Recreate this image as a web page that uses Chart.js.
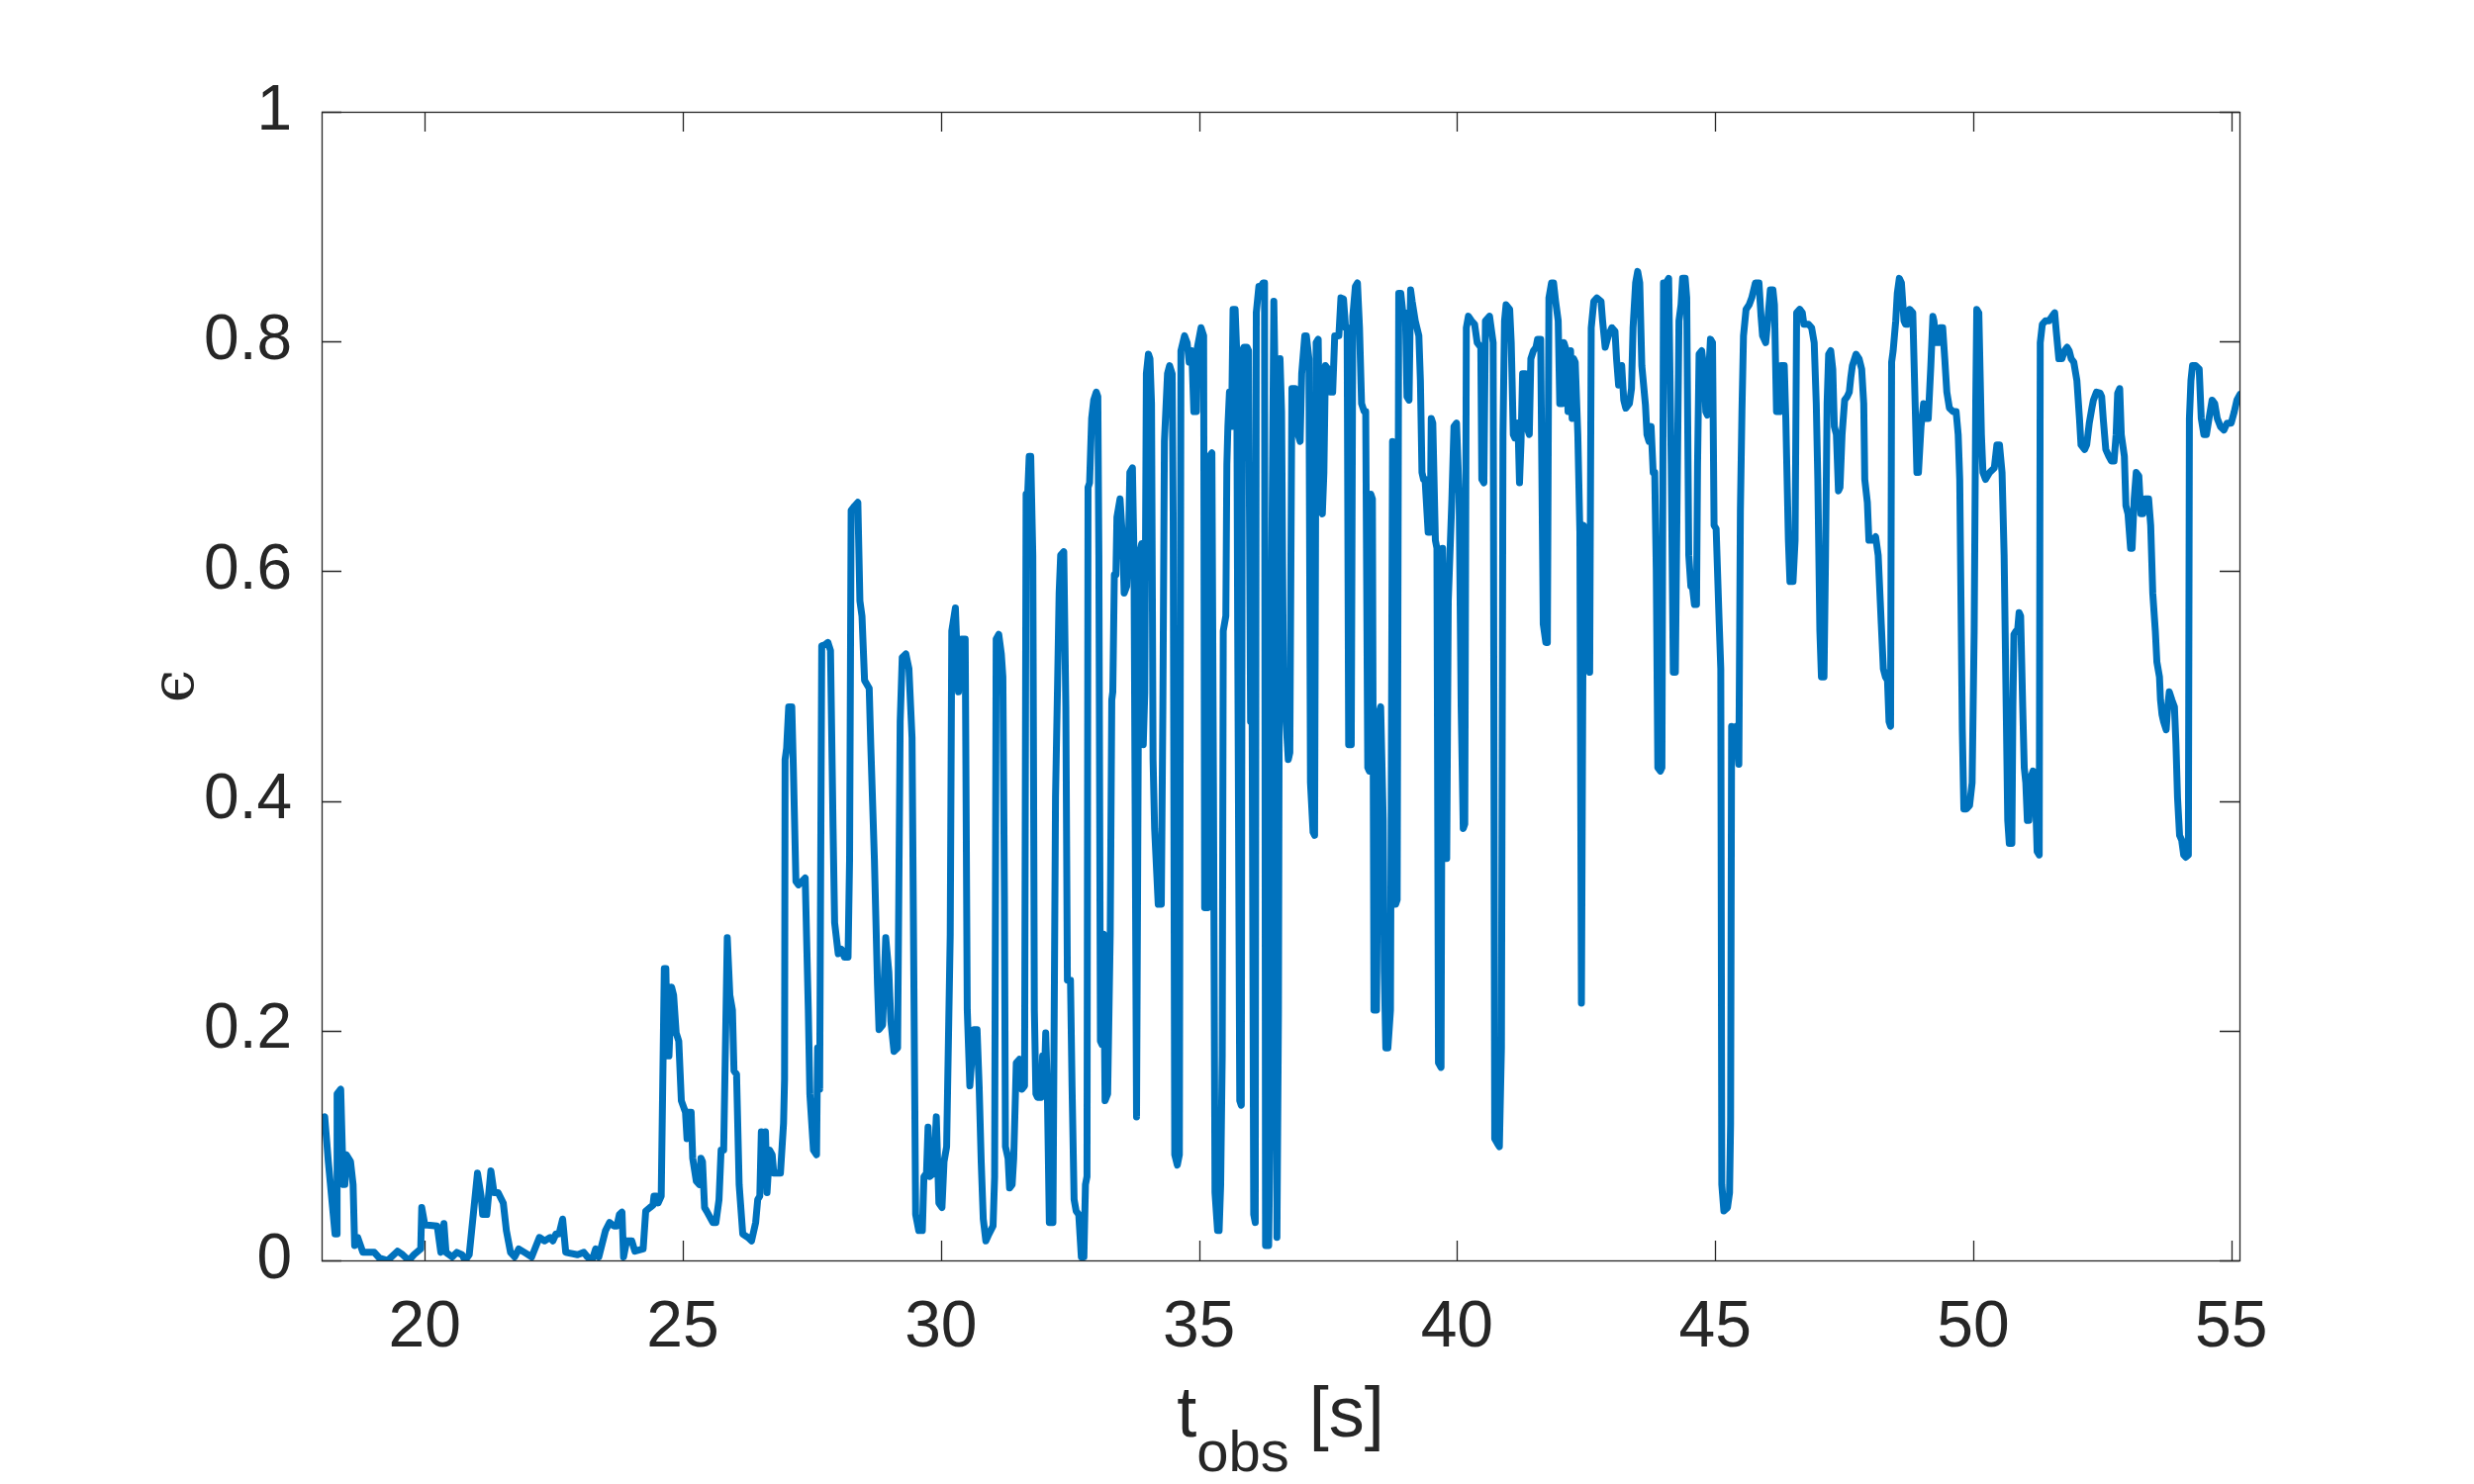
<!DOCTYPE html>
<html>
<head>
<meta charset="utf-8">
<script src="https://cdn.jsdelivr.net/npm/chart.js@4.4.1/dist/chart.umd.min.js"></script>
<style>
  html, body { margin: 0; padding: 0; background: #ffffff; }
  #wrap { width: 2500px; height: 1500px; }
</style>
</head>
<body>
<div id="wrap"><canvas id="c" width="2500" height="1500"></canvas></div>
<script>
// ---- data ----
const tObs = [
  18.00,18.06,18.13,18.26,18.29,18.30,18.37,18.42,18.45,18.48,18.56,18.61,18.64,18.70,18.80,19.02,19.12,19.28,19.47,19.57,
  19.69,19.79,19.92,19.94,20.00,20.24,20.31,20.37,20.41,20.53,20.62,20.72,20.78,20.86,21.02,21.09,21.12,21.20,21.28,21.34,
  21.42,21.52,21.58,21.66,21.74,21.82,21.93,22.07,22.22,22.32,22.43,22.48,22.54,22.60,22.67,22.73,22.96,23.08,23.15,23.24,
  23.31,23.37,23.50,23.58,23.66,23.72,23.77,23.82,23.85,23.91,24.01,24.07,
  24.23,24.28,24.36,24.42,24.44,24.49,24.52,24.58,24.64,24.67,24.70,24.73,24.78,24.82,24.87,24.92,24.97,25.05,25.08,25.10,
  25.16,25.19,25.26,25.32,25.35,25.38,25.42,25.46,25.58,25.64,25.70,25.74,25.79,25.86,25.91,25.96,25.99,26.04,26.09,26.16,
  26.26,26.33,26.41,26.45,26.49,26.52,26.55,26.60,26.63,26.68,26.73,26.76,26.89,26.95,26.97,26.98,27.01,27.05,27.08,27.11,
  27.14,27.19,27.24,27.37,27.43,27.46,27.53,27.59,27.61,27.65,27.69,27.75,27.81,27.86,27.91,27.94,28.01,28.07,28.13,28.20,
  28.23,28.26,28.33,28.39,28.43,28.47,28.52,28.61,28.64,28.71,28.77,28.80,28.87,28.93,28.99,29.03,29.09,29.16,29.21,29.25,
  29.32,29.38,29.44,29.51,29.57,29.64,29.67,29.72,29.75,29.78,29.86,29.91,29.96,30.02,30.06,30.11,30.18,30.21,30.28,30.34,
  30.40,30.47,30.51,30.56,
  30.64,30.70,30.74,30.78,30.82,30.87,30.93,31.01,31.04,31.07,31.12,31.17,31.20,31.23,31.25,31.30,31.33,31.38,31.41,31.46,
  31.52,31.57,31.62,31.65,31.68,31.71,31.74,31.78,31.81,31.84,31.87,31.94,31.97,32.00,32.03,32.06,32.10,32.17,32.22,32.26,
  32.29,32.32,32.38,32.42,32.45,32.51,32.54,32.58,32.62,32.67,32.72,32.77,32.80,32.83,32.85,32.88,32.92,32.96,33.01,33.04,
  33.06,33.09,33.12,33.15,33.18,33.23,33.28,33.31,33.33,33.36,33.39,33.41,33.47,33.52,33.55,33.60,33.63,33.66,33.71,33.74,
  33.79,33.84,33.89,33.92,33.95,33.98,34.02,34.05,34.08,34.11,34.14,34.21,34.27,34.30,34.33,34.39,34.43,34.48,34.50,34.53,
  34.58,34.62,34.65,34.72,34.77,34.81,34.86,34.90,34.95,34.97,35.04,35.09,35.11,35.17,35.20,35.25,35.28,35.31,35.36,35.39,
  35.42,35.45,35.47,35.52,35.54,35.56,35.59,35.63,35.66,35.70,35.73,35.75,35.79,35.82,35.84,35.87,35.93,35.96,36.00,36.03,
  36.06,36.09,36.11,36.16,36.20,36.24,36.27,36.29,36.35,36.38,36.41,36.45,36.48,36.51,36.54,36.57,36.60,36.64,36.67,36.73,
  36.76,36.80,36.86,36.92,36.96,36.99,37.05,
  37.08,37.13,37.16,37.21,37.24,37.27,37.31,37.35,37.39,37.42,37.45,37.50,37.54,37.59,37.63,37.71,37.75,37.80,37.84,37.87,
  37.90,37.95,37.98,38.03,38.07,38.11,38.15,38.20,38.23,38.27,38.30,38.33,38.36,38.39,38.44,38.48,38.52,38.57,38.59,38.62,
  38.66,38.68,38.71,38.75,38.78,38.81,38.84,38.87,38.91,38.95,39.00,39.03,39.07,39.10,39.13,39.19,39.26,39.29,39.32,39.35,
  39.38,39.44,39.48,39.50,39.53,39.58,39.61,39.64,39.69,39.72,39.75,39.80,39.83,39.90,39.94,39.99,40.04,40.08,40.12,40.15,
  40.18,40.22,40.28,40.34,40.39,40.46,40.48,40.52,40.55,40.63,40.70,40.73,40.78,40.82,40.86,40.89,40.92,40.95,41.02,41.05,
  41.09,41.12,41.18,41.21,41.24,41.27,41.32,41.35,41.40,41.43,41.48,41.53,41.56,41.62,41.67,41.72,41.75,41.78,41.83,41.87,
  41.91,41.96,41.99,42.04,42.07,42.12,42.15,42.20,42.23,42.26,42.29,42.34,42.38,42.41,42.45,42.49,42.52,42.57,42.60,42.65,
  42.71,42.79,42.82,42.87,42.93,43.00,43.06,43.09,43.13,43.19,43.23,43.27,43.34,43.38,43.41,43.46,43.50,43.54,
  43.58,43.65,43.68,43.72,43.76,43.80,43.83,43.86,43.89,43.94,43.97,44.00,44.05,44.10,44.15,44.19,44.23,44.26,44.30,44.34,
  44.37,44.42,44.45,44.49,44.53,44.56,44.60,44.64,44.66,44.69,44.74,44.79,44.82,44.85,44.88,44.91,44.95,44.98,45.02,45.08,
  45.11,45.13,45.17,45.24,45.28,45.30,45.32,45.36,45.41,45.46,45.49,45.52,45.55,45.60,45.66,45.71,45.78,45.85,45.89,45.92,
  45.98,46.02,46.07,46.12,46.15,46.19,46.25,46.28,46.34,46.37,46.42,46.45,46.51,46.55,46.58,46.64,46.69,46.72,46.77,46.81,
  46.87,46.92,46.96,46.99,47.03,47.06,47.11,47.14,47.17,47.20,47.24,47.28,47.31,47.35,47.39,47.42,47.46,47.51,47.56,47.60,
  47.63,47.66,47.73,47.79,47.84,47.88,47.90,47.95,47.98,48.05,48.11,48.16,48.20,48.22,48.26,48.30,48.34,48.37,48.40,48.42,
  48.45,48.50,48.53,48.57,48.61,48.66,48.69,48.72,48.77,48.83,48.88,48.91,48.94,48.99,49.04,49.09,49.13,49.18,49.22,49.24,
  49.28,49.33,49.36,49.41,49.45,49.49,49.54,49.61,49.67,49.71,49.74,49.77,49.79,49.82,49.87,49.93,49.98,50.02,50.05,50.07,
  50.11,
  50.16,50.19,50.24,50.32,50.41,50.46,50.51,50.56,50.60,50.64,50.67,50.70,50.75,50.77,50.79,50.83,50.86,50.89,50.92,50.96,
  50.99,51.02,51.05,51.08,51.13,51.16,51.20,51.24,51.28,51.30,51.34,51.40,51.47,51.53,51.58,51.61,51.66,51.72,51.77,51.82,
  51.86,51.90,51.95,52.01,52.06,52.09,52.16,52.20,52.25,52.30,52.33,52.39,52.46,52.49,52.52,52.57,52.63,52.68,52.73,52.77,
  52.80,52.84,52.87,52.93,52.96,53.00,53.05,53.08,53.12,53.16,53.21,53.25,53.29,53.33,53.40,53.44,53.48,53.53,53.56,53.61,
  53.63,53.66,53.69,53.74,53.77,53.80,53.85,53.90,53.93,53.96,54.00,54.04,54.08,54.12,54.17,54.19,54.22,54.25,54.31,54.38,
  54.42,54.47,54.52,54.57,54.63,54.68,54.73,54.79,54.86,54.92,55.00,55.06,55.11,55.17
];
const epsilon = [
  0.122,0.125,0.086,0.023,0.023,0.145,0.149,0.066,0.066,0.092,0.086,0.066,0.013,0.020,0.007,0.007,0.002,0.000,0.008,0.005,
  0.000,0.005,0.010,0.046,0.031,0.030,0.007,0.032,0.007,0.003,0.007,0.005,0.000,0.005,0.076,0.056,0.040,0.040,0.078,0.059,
  0.059,0.050,0.026,0.007,0.003,0.010,0.007,0.003,0.020,0.017,0.020,0.017,0.023,0.023,0.036,0.007,0.005,0.007,0.003,0.000,
  0.010,0.003,0.026,0.033,0.030,0.030,0.040,0.042,0.003,0.017,0.017,0.008,
  0.010,0.043,0.046,0.048,0.056,0.056,0.050,0.056,0.254,0.254,0.178,0.178,0.238,0.231,0.198,0.191,0.139,0.129,0.106,0.129,
  0.129,0.089,0.069,0.066,0.089,0.086,0.046,0.043,0.033,0.033,0.053,0.096,0.096,0.281,0.231,0.218,0.165,0.162,0.066,0.023,
  0.020,0.017,0.033,0.053,0.056,0.112,0.079,0.112,0.059,0.096,0.092,0.076,0.076,0.119,0.158,0.436,0.446,0.482,0.482,0.482,
  0.429,0.330,0.327,0.333,0.218,0.145,0.096,0.092,0.185,0.149,0.535,0.536,0.538,0.531,0.376,0.294,0.267,0.271,0.264,0.264,
  0.350,0.653,0.657,0.660,0.574,0.561,0.505,0.498,0.449,0.350,0.241,0.201,0.205,0.281,0.251,0.208,0.182,0.185,0.469,0.525,
  0.528,0.515,0.455,0.040,0.026,0.026,0.073,0.076,0.116,0.073,0.076,0.125,0.050,0.046,0.086,0.099,0.284,0.548,0.568,0.495,
  0.541,0.541,0.218,0.152,
  0.201,0.201,0.152,0.086,0.036,0.017,0.023,0.030,0.073,0.541,0.545,0.528,0.508,0.317,0.099,0.089,0.063,0.066,0.089,0.172,
  0.175,0.149,0.152,0.667,0.667,0.700,0.700,0.614,0.218,0.145,0.142,0.142,0.178,0.152,0.198,0.152,0.033,0.033,0.403,0.502,
  0.581,0.614,0.617,0.482,0.244,0.244,0.152,0.053,0.043,0.040,0.003,0.003,0.066,0.073,0.673,0.677,0.733,0.749,0.756,0.752,
  0.614,0.191,0.188,0.284,0.139,0.145,0.284,0.488,0.495,0.597,0.597,0.647,0.663,0.627,0.581,0.587,0.614,0.686,0.690,0.614,
  0.125,0.614,0.624,0.449,0.495,0.772,0.789,0.785,0.746,0.436,0.376,0.310,0.310,0.482,0.713,0.772,0.779,0.772,0.647,0.092,
  0.083,0.092,0.792,0.805,0.799,0.782,0.792,0.739,0.739,0.795,0.812,0.805,0.307,0.307,0.700,0.703,0.416,0.059,0.026,0.026,
  0.066,0.178,0.548,0.561,0.693,0.726,0.756,0.726,0.828,0.828,0.792,0.548,0.139,0.135,0.792,0.795,0.795,0.792,0.469,0.469,
  0.040,0.033,0.825,0.848,0.848,0.851,0.851,0.013,0.013,0.125,0.607,0.835,0.752,0.020,0.218,0.785,0.739,0.482,0.482,0.436,
  0.442,0.759,0.759,0.719,0.713,0.772,0.805,
  0.805,0.785,0.416,0.373,0.370,0.799,0.802,0.653,0.650,0.686,0.779,0.776,0.756,0.756,0.805,0.805,0.838,0.837,0.812,0.812,
  0.449,0.449,0.822,0.848,0.851,0.812,0.746,0.739,0.739,0.429,0.426,0.667,0.663,0.218,0.218,0.475,0.482,0.383,0.251,0.185,
  0.185,0.198,0.218,0.713,0.710,0.310,0.314,0.842,0.842,0.825,0.825,0.752,0.749,0.845,0.835,0.818,0.805,0.766,0.686,0.680,
  0.680,0.634,0.634,0.733,0.729,0.627,0.620,0.172,0.168,0.620,0.350,0.350,0.574,0.663,0.726,0.729,0.667,0.482,0.376,0.380,
  0.812,0.822,0.818,0.815,0.799,0.795,0.680,0.677,0.818,0.822,0.799,0.106,0.102,0.099,0.185,0.719,0.818,0.832,0.828,0.799,
  0.719,0.716,0.729,0.677,0.713,0.772,0.772,0.726,0.719,0.785,0.792,0.795,0.802,0.802,0.554,0.538,0.538,0.838,0.851,0.851,
  0.835,0.818,0.746,0.746,0.799,0.792,0.739,0.792,0.733,0.785,0.782,0.719,0.634,0.224,0.640,0.637,0.561,0.512,0.812,0.835,
  0.838,0.835,0.818,0.795,0.805,0.812,0.809,0.785,0.762,0.779,0.749,0.742,0.746,0.759,0.812,0.851,0.861,0.851,
  0.779,0.745,0.719,0.713,0.726,0.686,0.686,0.601,0.429,0.426,0.429,0.851,0.851,0.855,0.693,0.512,0.512,0.647,0.818,0.832,
  0.855,0.855,0.838,0.614,0.587,0.587,0.571,0.571,0.693,0.789,0.792,0.772,0.739,0.736,0.776,0.802,0.799,0.640,0.637,0.554,
  0.515,0.066,0.043,0.046,0.059,0.119,0.465,0.463,0.465,0.432,0.653,0.739,0.805,0.828,0.832,0.838,0.851,0.851,0.822,0.805,
  0.799,0.818,0.845,0.845,0.832,0.739,0.739,0.779,0.779,0.733,0.627,0.591,0.591,0.627,0.825,0.828,0.825,0.815,0.815,0.815,
  0.812,0.799,0.746,0.680,0.548,0.508,0.508,0.614,0.746,0.789,0.792,0.776,0.726,0.719,0.670,0.673,0.719,0.749,0.752,0.756,
  0.769,0.779,0.789,0.785,0.776,0.746,0.680,0.660,0.627,0.627,0.630,0.614,0.574,0.554,0.515,0.508,0.505,0.469,0.465,0.782,
  0.792,0.818,0.842,0.855,0.851,0.818,0.815,0.815,0.828,0.825,0.739,0.686,0.686,0.726,0.746,0.733,0.733,0.779,0.822,0.818,
  0.799,0.799,0.812,0.812,0.785,0.756,0.742,0.739,0.739,0.719,0.680,0.548,0.462,0.393,0.393,0.396,0.416,0.548,0.746,0.828,
  0.825,
  0.719,0.686,0.680,0.686,0.690,0.710,0.710,0.686,0.614,0.482,0.383,0.363,0.363,0.482,0.545,0.548,0.548,0.564,0.561,0.482,
  0.429,0.416,0.383,0.383,0.422,0.426,0.416,0.356,0.353,0.799,0.815,0.818,0.818,0.822,0.825,0.809,0.785,0.785,0.792,0.795,
  0.792,0.785,0.782,0.766,0.733,0.710,0.706,0.710,0.729,0.742,0.749,0.756,0.755,0.752,0.733,0.706,0.700,0.696,0.696,0.719,
  0.755,0.759,0.719,0.700,0.657,0.650,0.620,0.620,0.663,0.686,0.683,0.650,0.650,0.663,0.663,0.640,0.581,0.548,0.521,0.508,
  0.488,0.475,0.469,0.462,0.482,0.495,0.488,0.482,0.449,0.403,0.370,0.366,0.353,0.351,0.353,0.733,0.766,0.779,0.779,0.776,
  0.733,0.719,0.719,0.733,0.749,0.746,0.733,0.726,0.723,0.729,0.729,0.739,0.749,0.754
];
const xTickValues = [20, 25, 30, 35, 40, 45, 50, 55];
const yTickValues = [0, 0.2, 0.4, 0.6, 0.8, 1];
const yTickLabels = ['0', '0.2', '0.4', '0.6', '0.8', '1'];
const xTitleMain = 't';
const xTitleSub = 'obs';
const xTitleUnit = ' [s]';
const yTitle = '\u03F5';

// ---- chart ----
const AXIS_COLOR = '#262626';
const TICK_LEN = 20;

const boxAndTitle = {
  id: 'boxAndTitle',
  afterDatasetsDraw(chart) {
    const { ctx, chartArea: a, scales: { x, y } } = chart;
    ctx.save();
    ctx.strokeStyle = AXIS_COLOR;
    ctx.lineWidth = 1.3;
    ctx.beginPath();
    xTickValues.forEach(v => {
      const px = Math.round(x.getPixelForValue(v)) + 0.5;
      ctx.moveTo(px, a.bottom); ctx.lineTo(px, a.bottom - TICK_LEN);
      ctx.moveTo(px, a.top); ctx.lineTo(px, a.top + TICK_LEN);
    });
    yTickValues.forEach(v => {
      const py = Math.round(y.getPixelForValue(v)) + 0.5;
      ctx.moveTo(a.left, py); ctx.lineTo(a.left + TICK_LEN, py);
      ctx.moveTo(a.right, py); ctx.lineTo(a.right - TICK_LEN, py);
    });
    ctx.stroke();
    ctx.strokeRect(Math.round(a.left) + 0.5, Math.round(a.top) + 0.5,
                   Math.round(a.right - a.left), Math.round(a.bottom - a.top));

    // x-axis title with subscript
    ctx.fillStyle = AXIS_COLOR;
    ctx.textBaseline = 'alphabetic';
    ctx.textAlign = 'left';
    const mainFont = '72px "Liberation Sans", Arial, sans-serif';
    const subFont = '58px "Liberation Sans", Arial, sans-serif';
    ctx.font = mainFont;
    const w1 = ctx.measureText(xTitleMain).width;
    const w3 = ctx.measureText(xTitleUnit).width;
    ctx.font = subFont;
    const w2 = ctx.measureText(xTitleSub).width;
    const total = w1 + w2 + w3;
    let sx = (a.left + a.right) / 2 - total / 2;
    const base = a.bottom + 178;
    ctx.font = mainFont;
    ctx.fillText(xTitleMain, sx, base);
    sx += w1;
    ctx.font = subFont;
    ctx.fillText(xTitleSub, sx, base + 35);
    sx += w2;
    ctx.font = mainFont;
    ctx.fillText(xTitleUnit, sx, base);
    ctx.restore();
  }
};

new Chart(document.getElementById('c'), {
  type: 'line',
  data: {
    datasets: [{
      data: tObs.map((t, i) => ({ x: t, y: epsilon[i] })),
      borderColor: '#0072BD',
      backgroundColor: '#0072BD',
      borderWidth: 7,
      pointRadius: 0,
      tension: 0,
      borderJoinStyle: 'round',
      borderCapStyle: 'round',
      fill: false
    }]
  },
  options: {
    responsive: false,
    devicePixelRatio: 1,
    animation: false,
    events: [],
    layout: { padding: { left: 0, right: 237, top: 113, bottom: 0 } },
    plugins: { legend: { display: false }, tooltip: { enabled: false } },
    scales: {
      x: {
        type: 'linear',
        min: 18,
        max: 55.16,
        afterBuildTicks: s => { s.ticks = xTickValues.map(v => ({ value: v })); },
        afterFit: s => { s.height = 226; },
        grid: { display: false },
        border: { display: false },
        ticks: {
          color: AXIS_COLOR,
          font: { family: '"Liberation Sans", Arial, sans-serif', size: 66 },
          padding: 21,
          maxRotation: 0,
          autoSkip: false
        }
      },
      y: {
        type: 'linear',
        min: 0,
        max: 1,
        afterBuildTicks: s => { s.ticks = yTickValues.map(v => ({ value: v })); },
        afterFit: s => { s.width = 325; },
        grid: { display: false },
        border: { display: false },
        ticks: {
          color: AXIS_COLOR,
          font: { family: '"Liberation Sans", Arial, sans-serif', size: 64 },
          padding: 22,
          autoSkip: false,
          callback: (v) => { const i = yTickValues.indexOf(v); return i >= 0 ? yTickLabels[i] : ''; }
        },
        title: {
          display: true,
          text: yTitle,
          color: AXIS_COLOR,
          font: { family: '"DejaVu Serif", serif', size: 60 },
          padding: { top: 143, bottom: 0 }
        }
      }
    }
  },
  plugins: [boxAndTitle]
});
</script>
</body>
</html>
